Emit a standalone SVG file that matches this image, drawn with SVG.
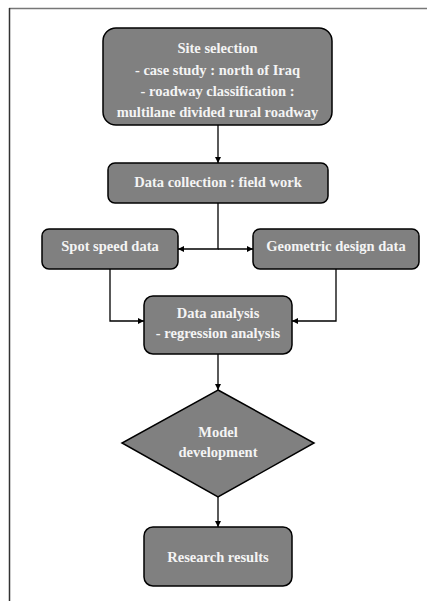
<svg xmlns="http://www.w3.org/2000/svg" width="427" height="601" viewBox="0 0 427 601">
<defs>
<marker id="ah" viewBox="0 0 10 10" refX="10" refY="5" markerWidth="6" markerHeight="6" markerUnits="userSpaceOnUse" orient="auto">
<path d="M0,0 L10,5 L0,10 z" fill="#000"/>
</marker>
<style>
.box{fill:#808080;stroke:#000;stroke-width:1.5}
.t{font-family:"Liberation Serif","Times New Roman",serif;font-weight:bold;font-size:14.5px;fill:#f4f4f4;text-anchor:middle}
.c{fill:none;stroke:#000;stroke-width:1.3;marker-end:url(#ah)}
</style>
</defs>
<rect width="427" height="601" fill="#fff"/>
<line x1="9" y1="8.5" x2="427" y2="8.5" stroke="#777" stroke-width="1.5"/>
<line x1="9.5" y1="8" x2="9.5" y2="601" stroke="#333" stroke-width="1.5"/>
<g id="site">
<rect class="box" x="103" y="28" width="229" height="97" rx="13"/>
<text class="t" x="217.5" y="53">Site selection</text>
<text class="t" x="217.5" y="74.5">- case study : north of Iraq</text>
<text class="t" x="217.5" y="95.5">- roadway classification :</text>
<text class="t" x="217.5" y="117">multilane divided rural roadway</text>
</g>
<g id="collection">
<rect class="box" x="108" y="163" width="220" height="40" rx="7"/>
<text class="t" x="218" y="187">Data collection : field work</text>
</g>
<g id="spot">
<rect class="box" x="42" y="229" width="136" height="40" rx="7"/>
<text class="t" x="110" y="251">Spot speed data</text>
</g>
<g id="geometric">
<rect class="box" x="253" y="229" width="166" height="40" rx="7"/>
<text class="t" x="336" y="251">Geometric design data</text>
</g>
<g id="analysis">
<rect class="box" x="144" y="296" width="148" height="58" rx="9"/>
<text class="t" x="218" y="318">Data analysis</text>
<text class="t" x="218" y="338">- regression analysis</text>
</g>
<g id="model">
<polygon class="box" points="218,390 314,443 218,497 122,443"/>
<text class="t" x="218" y="437">Model</text>
<text class="t" x="218" y="457">development</text>
</g>
<g id="results">
<rect class="box" x="144" y="527" width="148" height="59" rx="9"/>
<text class="t" x="218" y="562">Research results</text>
</g>
<g id="connectors">
<path class="c" d="M218,125 L218,163"/>
<path class="c" d="M218,203 L218,249 L178,249"/>
<path class="c" d="M218,249 L253,249"/>
<path class="c" d="M110,269 L110,321 L144,321"/>
<path class="c" d="M336,269 L336,321 L292,321"/>
<path class="c" d="M218,354 L218,390"/>
<path class="c" d="M218,497 L218,527"/>
</g>
</svg>
